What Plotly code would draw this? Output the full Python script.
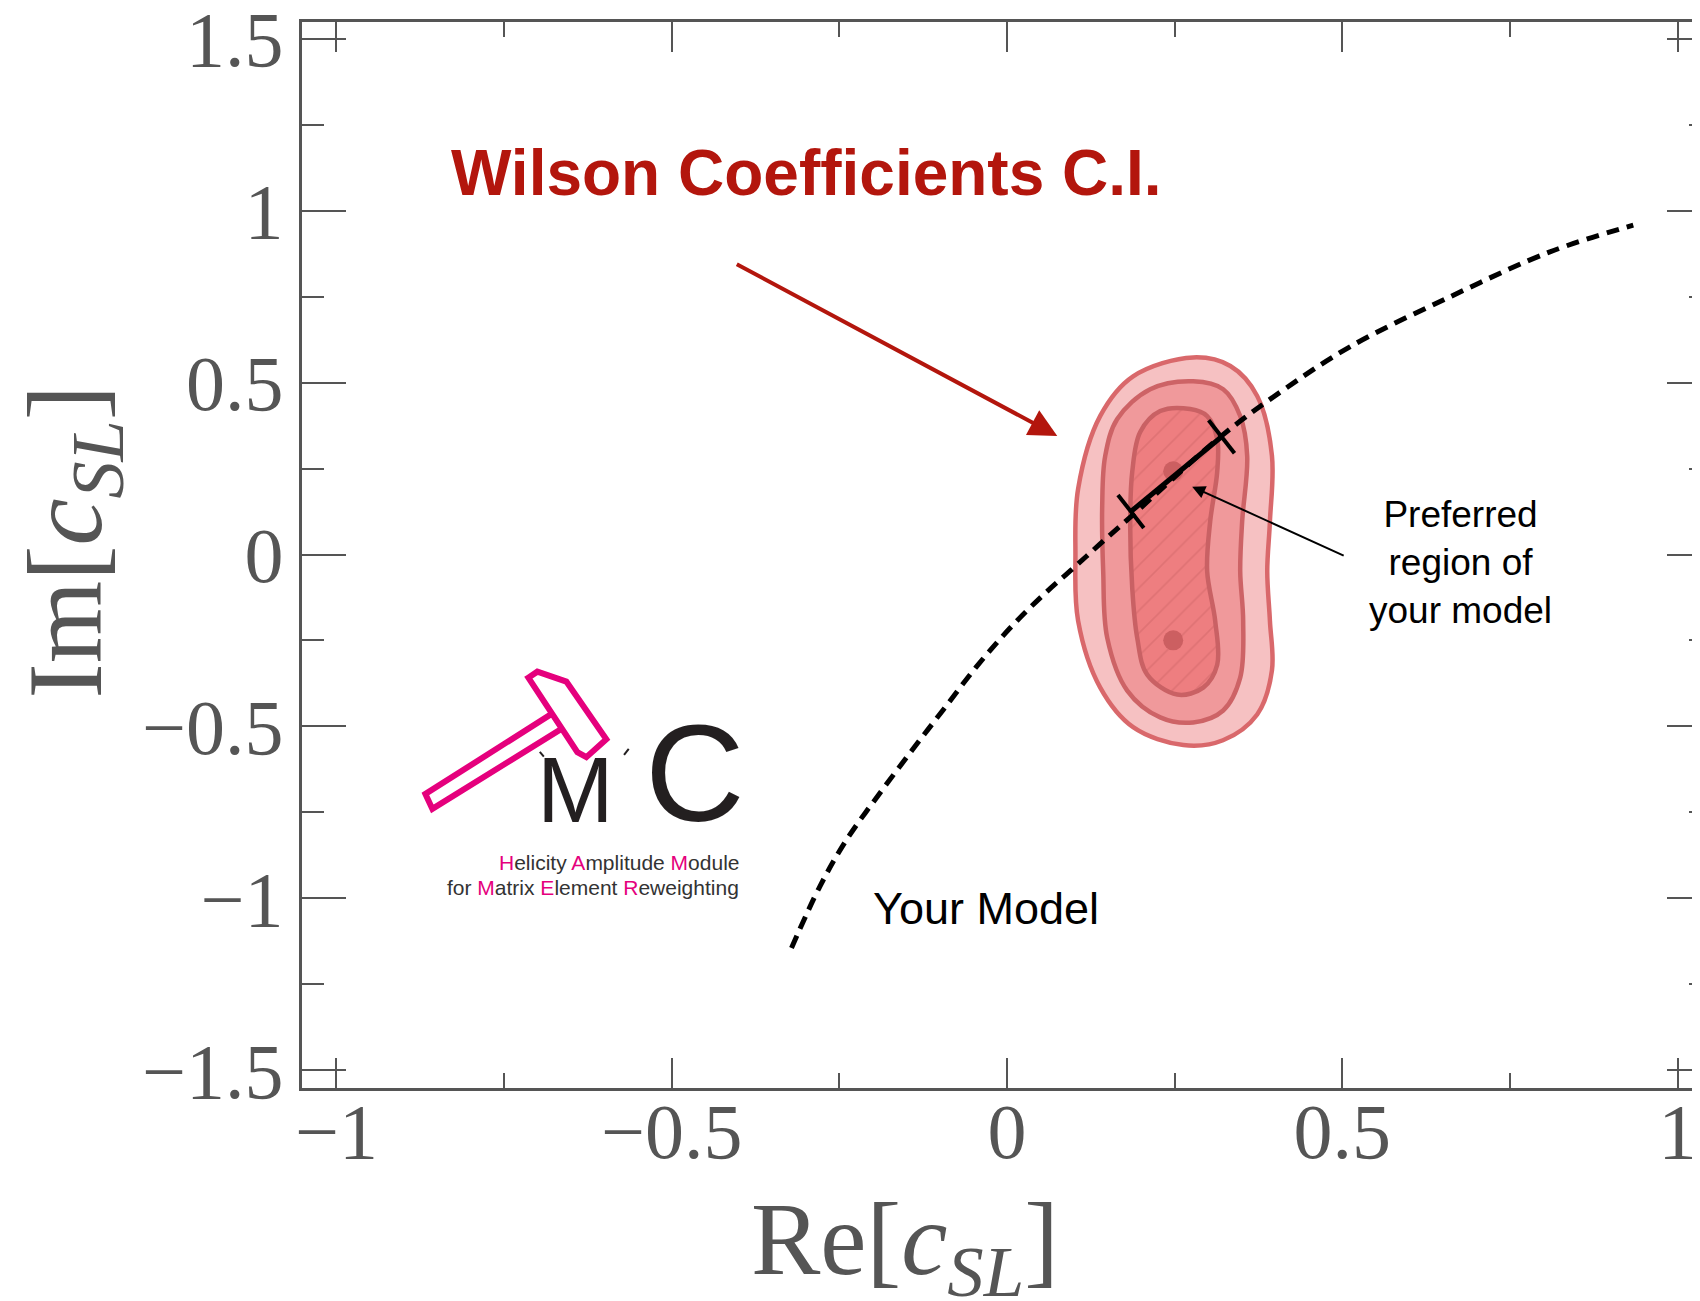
import plotly.graph_objects as go

# ---------------- axes ----------------
x_tick_vals = [-1, -0.5, 0, 0.5, 1]
x_tick_text = ["\u22121", "\u22120.5", "0", "0.5", "1"]
x_minor_vals = [-0.75, -0.25, 0.25, 0.75]
y_tick_vals = [-1.5, -1, -0.5, 0, 0.5, 1, 1.5]
y_tick_text = ["\u22121.5", "\u22121", "\u22120.5", "0", "0.5", "1", "1.5"]
y_minor_vals = [-1.25, -0.75, -0.25, 0.25, 0.75, 1.25]
x_range = [-1.0513, 1.0333]
y_range = [-1.5511, 1.5482]

# ---------------- "Your Model" curve ----------------
model_re = [-0.3214, -0.2792, -0.2394, -0.1897, -0.14, -0.0953, -0.0455, 0.0042, 0.0538,
            0.0986, 0.1384, 0.1847, 0.3199, 0.4118, 0.5112, 0.6604, 0.8095, 0.9338]
model_im = [-1.1443, -0.9654, -0.8297, -0.694, -0.565, -0.4519, -0.3261, -0.2145, -0.118,
            -0.0401, 0.030, 0.11, 0.345, 0.478, 0.6038, 0.7491, 0.8799, 0.9575]

# ---------------- confidence regions ----------------
outer_re = [0.2776, 0.188, 0.139, 0.106, 0.102, 0.106, 0.139, 0.188, 0.263, 0.322,
            0.373, 0.395, 0.392, 0.388, 0.392, 0.395, 0.373, 0.333]
outer_im = [0.573, 0.518, 0.403, 0.191, -0.002, -0.193, -0.387, -0.502, -0.554, -0.540,
            -0.465, -0.337, -0.193, -0.049, 0.096, 0.287, 0.461, 0.548]
mid_re = [0.2776, 0.2135, 0.1643, 0.1464, 0.1419, 0.1434, 0.1494, 0.1792, 0.2284,
          0.2776, 0.3223, 0.3477, 0.3521, 0.3477, 0.3506, 0.3581, 0.3477, 0.3223]
mid_im = [0.5037, 0.4806, 0.3938, 0.2868, 0.1422, -0.0486, -0.2424, -0.3956, -0.4737,
          -0.4882, -0.4535, -0.358, -0.1932, -0.0486, 0.096, 0.2868, 0.4025, 0.4806]
inner_re = [0.2731, 0.2284, 0.1986, 0.1867, 0.1837, 0.1867, 0.1941, 0.209, 0.2537,
            0.2925, 0.3134, 0.3104, 0.2984, 0.3029, 0.3134, 0.3134, 0.2984]
inner_im = [0.4228, 0.417, 0.3563, 0.2406, 0.096, -0.0978, -0.2424, -0.3494, -0.4073,
            -0.387, -0.3205, -0.1932, -0.0486, 0.096, 0.2406, 0.336, 0.4025]
best_re = [0.2478, 0.2478]
best_im = [0.2420, -0.2496]

# preferred region of the model (segment on the curve)
pref_re = [0.1847, 0.3199]
pref_im = [0.125, 0.3423]

# ---------------- logo outline (decoration) ----------------
hammer_head_re = [-0.7138, -0.7004, -0.6571, -0.5975, -0.6273, -0.6407]
hammer_head_im = [-0.3580, -0.3406, -0.3695, -0.5373, -0.5893, -0.5749]
hammer_handle_re = [-0.8673, -0.8569, -0.6631, -0.6780]
hammer_handle_im = [-0.6963, -0.7397, -0.5055, -0.4621]
spark_left_re = [-0.6967, -0.6907]
spark_left_im = [-0.5738, -0.5876]
spark_right_re = [-0.5711, -0.5641]
spark_right_im = [-0.5827, -0.5652]

AX = "#555555"
SERIF = "Liberation Serif, Times New Roman, serif"
SANS = "Liberation Sans, Arial, Helvetica, sans-serif"
MAGENTA = "#e5007d"
RED = "#b3160d"

fig = go.Figure()


def closed(a):
    return list(a) + [a[0]]


fig.add_trace(go.Scatter(
    x=closed(outer_re), y=closed(outer_im), mode="lines", fill="toself",
    fillcolor="#f6c1c2", line=dict(color="#d9686b", width=4.5, shape="spline", smoothing=1.0),
    hoverinfo="skip", showlegend=False))
fig.add_trace(go.Scatter(
    x=closed(mid_re), y=closed(mid_im), mode="lines", fill="toself",
    fillcolor="#f0999b", line=dict(color="#cd6366", width=4.5, shape="spline", smoothing=1.0),
    hoverinfo="skip", showlegend=False))
fig.add_trace(go.Scatter(
    x=closed(inner_re), y=closed(inner_im), mode="lines", fill="toself",
    fillcolor="#ee7e80",
    fillpattern=dict(shape="/", fgcolor="#cf6668", bgcolor="#ee7e80", size=16, solidity=0.1),
    line=dict(color="#c96164", width=4.5, shape="spline", smoothing=1.0),
    hoverinfo="skip", showlegend=False))
fig.add_trace(go.Scatter(
    x=best_re, y=best_im, mode="markers",
    marker=dict(size=20, color="#cc5f61"), hoverinfo="skip", showlegend=False))

# model curve
fig.add_trace(go.Scatter(
    x=model_re, y=model_im, mode="lines",
    line=dict(color="black", width=5, dash="13px,8px", shape="spline"),
    hoverinfo="skip", showlegend=False))

# preferred-region segment with caps
fig.add_trace(go.Scatter(
    x=pref_re, y=pref_im, mode="lines+markers",
    line=dict(color="black", width=5),
    marker=dict(symbol="line-ns", size=30, angle=-38,
                line=dict(color="black", width=4), color="black"),
    hoverinfo="skip", showlegend=False))


def poly(xs, ys, close=True):
    p = "M " + " L ".join(f"{a},{b}" for a, b in zip(xs, ys))
    return p + (" Z" if close else "")


# logo shapes
fig.add_shape(type="path", path=poly(hammer_handle_re, hammer_handle_im),
              xref="x", yref="y", line=dict(color=MAGENTA, width=6), fillcolor="white", layer="above")
fig.add_shape(type="path", path=poly(hammer_head_re, hammer_head_im),
              xref="x", yref="y", line=dict(color=MAGENTA, width=6), fillcolor="white", layer="above")
for sx, sy in ((spark_left_re, spark_left_im), (spark_right_re, spark_right_im)):
    fig.add_shape(type="path", path=poly(sx, sy, close=False), xref="x", yref="y",
                  line=dict(color="#231f20", width=2), layer="above")

annotations = []
# red arrow & title
annotations.append(dict(x=0.0749, y=0.3447, ax=-0.4052, ay=0.8464, xref="x", yref="y",
                        axref="x", ayref="y", text="", showarrow=True, arrowhead=2,
                        arrowsize=1.4, arrowwidth=4, arrowcolor=RED))
annotations.append(dict(x=-0.2984, y=1.108, xref="x", yref="y", showarrow=False,
                        xanchor="center", yanchor="middle",
                        text="<b>Wilson Coefficients C.I.</b>",
                        font=dict(family=SANS, size=64, color=RED)))
# black arrow and label
annotations.append(dict(x=0.2761, y=0.1972, ax=0.5042, ay=-0.0052, xref="x", yref="y",
                        axref="x", ayref="y", text="", showarrow=True, arrowhead=2,
                        arrowsize=1.3, arrowwidth=2, arrowcolor="black"))
annotations.append(dict(x=0.6756, y=-0.0225, xref="x", yref="y", showarrow=False,
                        xanchor="center", yanchor="middle",
                        text="Preferred<br>region of<br>your model", align="center",
                        font=dict(family=SANS, size=37, color="black")))
annotations.append(dict(x=-0.031, y=-1.029, xref="x", yref="y", showarrow=False,
                        xanchor="center", yanchor="middle",
                        text="Your Model", font=dict(family=SANS, size=45, color="black")))
# logo text
annotations.append(dict(x=-0.6435, y=-0.684, xref="x", yref="y", showarrow=False,
                        xanchor="center", yanchor="middle",
                        text="M", font=dict(family=SANS, size=92, color="#231f20")))
annotations.append(dict(x=-0.4656, y=-0.634, xref="x", yref="y", showarrow=False,
                        xanchor="center", yanchor="middle",
                        text="C", font=dict(family=SANS, size=138, color="#231f20")))
m = lambda s: f'<span style="color:{MAGENTA}">{s}</span>'
annotations.append(dict(x=-0.3962, y=-0.8965, xref="x", yref="y", xanchor="right",
                        yanchor="middle", showarrow=False,
                        text=f"{m('H')}elicity {m('A')}mplitude {m('M')}odule",
                        font=dict(family=SANS, size=21, color="#333333")))
annotations.append(dict(x=-0.3962, y=-0.9685, xref="x", yref="y", xanchor="right",
                        yanchor="middle", showarrow=False,
                        text=f"for {m('M')}atrix {m('E')}lement {m('R')}eweighting",
                        font=dict(family=SANS, size=21, color="#333333")))
# axis titles
annotations.append(dict(x=0.4313, y=-0.1488, xref="paper", yref="paper", showarrow=False,
                        xanchor="center", yanchor="middle",
                        text="Re[<i>c</i><sub><i>SL</i></sub>]",
                        font=dict(family=SERIF, size=104, color=AX)))
annotations.append(dict(x=-0.164, y=0.5123, xref="paper", yref="paper", showarrow=False,
                        xanchor="center", yanchor="middle",
                        textangle=-90, text="Im[<i>c</i><sub><i>SL</i></sub>]",
                        font=dict(family=SERIF, size=106, color=AX)))

fig.update_layout(
    width=1692, height=1293,
    margin=dict(l=294, r=0, t=14, b=213, autoexpand=False),
    paper_bgcolor="white", plot_bgcolor="white",
    showlegend=False,
    annotations=annotations,
    xaxis=dict(range=x_range, tickmode="array", tickvals=x_tick_vals, ticktext=x_tick_text,
               ticks="inside", ticklen=30, tickwidth=2, tickcolor=AX,
               showline=True, linewidth=3, linecolor=AX, mirror="ticks",
               showgrid=False, zeroline=False, ticklabelstandoff=-27,
               ticklabeloverflow="allow", automargin=False,
               tickfont=dict(family=SERIF, size=78, color=AX),
               minor=dict(tickmode="array", tickvals=x_minor_vals, ticks="inside",
                          ticklen=15, tickwidth=2, tickcolor=AX, showgrid=False)),
    yaxis=dict(range=y_range, tickmode="array", tickvals=y_tick_vals, ticktext=y_tick_text,
               ticks="inside", ticklen=44, tickwidth=2, tickcolor=AX,
               showline=True, linewidth=3, linecolor=AX, mirror=False,
               showgrid=False, zeroline=False, ticklabelstandoff=0,
               ticklabeloverflow="allow", automargin=False,
               tickfont=dict(family=SERIF, size=78, color=AX),
               minor=dict(tickmode="array", tickvals=y_minor_vals, ticks="inside",
                          ticklen=22, tickwidth=2, tickcolor=AX, showgrid=False)),
    yaxis2=dict(range=y_range, overlaying="y", side="right", anchor="x",
                tickmode="array", tickvals=y_tick_vals, showticklabels=False,
                ticks="inside", ticklen=33, tickwidth=2, tickcolor=AX,
                showline=False, showgrid=False, zeroline=False, automargin=False,
                minor=dict(tickmode="array", tickvals=y_minor_vals, ticks="inside",
                           ticklen=11, tickwidth=2, tickcolor=AX, showgrid=False)),
)
# invisible trace to activate yaxis2
fig.add_trace(go.Scatter(x=[None], y=[None], yaxis="y2", showlegend=False, hoverinfo="skip"))

fig.write_html("out.html")
